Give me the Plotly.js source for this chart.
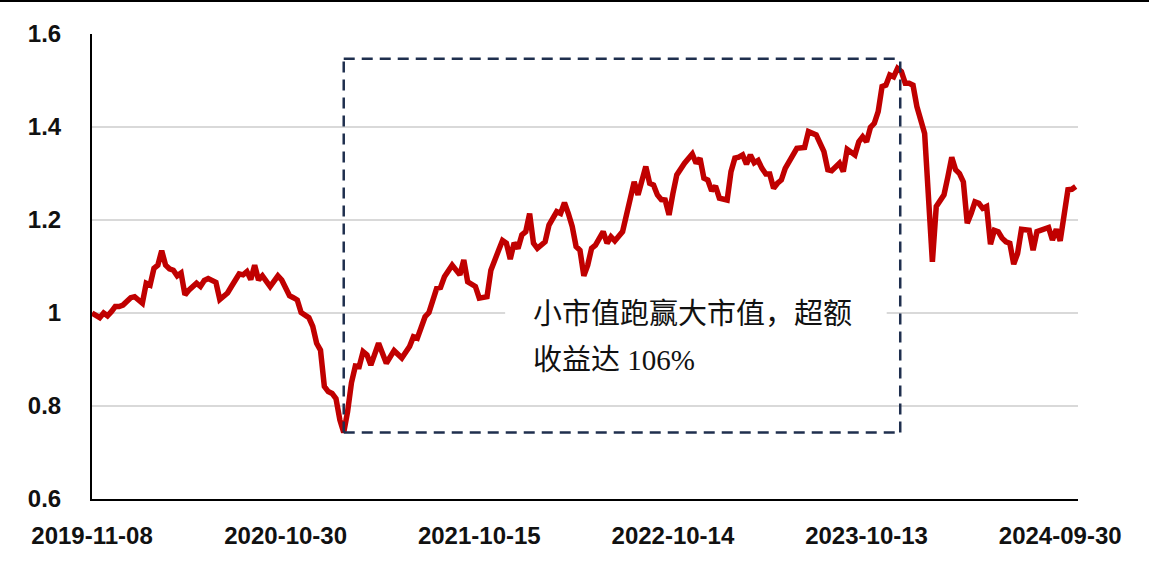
<!DOCTYPE html>
<html>
<head>
<meta charset="utf-8">
<script src="https://cdn.plot.ly/plotly-3.0.1.min.js"></script>
<style>
  html, body { margin: 0; padding: 0; background: #fff; }
  #wrap { position: relative; width: 1149px; height: 564px; }
  #chart { width: 1149px; height: 564px; }
  #topline { position: absolute; left: 0; top: 0; width: 1149px; height: 2px; background: #000; z-index: 5; }
</style>
</head>
<body>
<div id="wrap"><div id="chart"></div><div id="topline"></div></div>
<script>
// Weekly index (0 = 2019-11-08) and relative strength: small cap / large cap
const weekIndex = [0,2,3,4,5,6,7,8,10,11,13,14,15,16,17,18,19,20,21,22,23,24,25,27,28,29,30,32,33,35,36,38,39,40,41,42,43,44,46,48,49,51,52,53,54,56,57,58,59,60,61,62,63,64,65,66,67,68,69,70,71,72,74,76,78,80,82,83,84,86,87,89,90,91,93,94,95,96,97,99,100,102,103,105,106,107,108,109,110,111,112,113,114,115,117,118,119,120,121,122,123,124,125,126,127,128,129,130,132,133,134,135,137,138,140,141,142,143,144,145,146,147,148,149,150,151,153,154,155,156,157,158,159,160,161,162,164,165,166,167,168,169,170,171,172,173,174,175,176,177,178,179,181,182,184,185,187,188,189,190,191,193,194,195,197,198,199,200,201,202,203,204,205,206,207,208,209,210,211,212,213,215,216,217,218,219,220,221,222,223,224,225,226,227,228,229,230,231,232,233,234,235,236,237,238,239,240,242,243,244,246,247,248,249,250,252,253,254];
const ratio = [1.000,0.990,1.000,0.994,1.003,1.014,1.014,1.017,1.033,1.035,1.021,1.064,1.060,1.096,1.103,1.134,1.103,1.095,1.092,1.080,1.086,1.039,1.049,1.064,1.057,1.070,1.074,1.066,1.029,1.043,1.057,1.084,1.082,1.089,1.072,1.103,1.071,1.080,1.057,1.080,1.071,1.037,1.033,1.028,1.001,0.990,0.971,0.935,0.920,0.842,0.831,0.827,0.816,0.770,0.743,0.788,0.850,0.886,0.885,0.917,0.910,0.888,0.935,0.892,0.919,0.903,0.928,0.949,0.946,0.992,1.001,1.053,1.055,1.078,1.103,1.092,1.082,1.114,1.067,1.057,1.032,1.035,1.092,1.135,1.156,1.150,1.116,1.151,1.139,1.168,1.175,1.214,1.150,1.139,1.153,1.189,1.204,1.218,1.214,1.237,1.214,1.186,1.143,1.135,1.080,1.103,1.139,1.146,1.175,1.150,1.164,1.155,1.175,1.215,1.282,1.254,1.286,1.315,1.279,1.275,1.254,1.244,1.243,1.211,1.257,1.297,1.322,1.333,1.342,1.322,1.333,1.290,1.286,1.263,1.273,1.247,1.243,1.304,1.333,1.335,1.340,1.320,1.340,1.323,1.328,1.311,1.299,1.299,1.268,1.279,1.286,1.311,1.343,1.354,1.356,1.390,1.383,1.361,1.347,1.308,1.306,1.322,1.304,1.352,1.340,1.368,1.379,1.368,1.399,1.408,1.433,1.487,1.490,1.512,1.508,1.526,1.519,1.494,1.494,1.490,1.444,1.386,1.265,1.110,1.229,1.243,1.254,1.293,1.335,1.308,1.300,1.282,1.193,1.214,1.239,1.236,1.225,1.229,1.148,1.178,1.175,1.161,1.153,1.150,1.105,1.128,1.180,1.178,1.135,1.175,1.180,1.184,1.157,1.180,1.155,1.265,1.266,1.272];

const xTickPos = [0, 50, 100, 150, 200, 250];
const xTickLabels = ['2019-11-08', '2020-10-30', '2021-10-15', '2022-10-14', '2023-10-13', '2024-09-30'];
const yTickVals = [0.6, 0.8, 1.0, 1.2, 1.4, 1.6];
const yTickLabels = ['0.6', '0.8', '1', '1.2', '1.4', '1.6'];
const noteLine1 = '小市值跑赢大市值，超额';
const noteLine2 = '收益达 106%';

// box around the rally: from the trough to the peak
let minI = 0, maxI = 0;
ratio.forEach((v, i) => { if (v < ratio[minI]) minI = i; if (v > ratio[maxI]) maxI = i; });
const boxTopPad = 0.021;
const boxRightPad = 0.7;

const tickFont = { family: 'Liberation Sans, Arial, sans-serif', size: 24, color: '#111', weight: 'bold' };
const noteFont = { family: 'Liberation Serif, Noto Sans CJK SC, serif', size: 29, color: '#111' };

const trace = {
  x: weekIndex, y: ratio, type: 'scatter', mode: 'lines',
  line: { color: '#C00000', width: 5.5 }, hoverinfo: 'skip'
};

const boxLine = { color: '#1F2F4E', width: 2.5, dash: '11px,7px' };
const bx0 = weekIndex[minI], bx1 = weekIndex[maxI] + boxRightPad;
const by0 = ratio[minI], by1 = ratio[maxI] + boxTopPad;

const layout = {
  width: 1149, height: 564,
  margin: { l: 92, r: 71, t: 34, b: 65 },
  paper_bgcolor: '#fff', plot_bgcolor: '#fff',
  showlegend: false,
  xaxis: {
    range: [0, 254.6], showgrid: false, zeroline: false,
    showline: true, linecolor: '#000', linewidth: 2,
    tickmode: 'array', tickvals: xTickPos, ticktext: xTickLabels,
    ticks: '', ticklabelstandoff: 14, tickfont: tickFont, fixedrange: true
  },
  yaxis: {
    range: [0.6, 1.6], showgrid: true, gridcolor: '#D9D9D9', gridwidth: 2,
    zeroline: false, showline: true, linecolor: '#000', linewidth: 2,
    tickmode: 'array', tickvals: yTickVals, ticktext: yTickLabels,
    ticks: '', ticklabelstandoff: 24, tickfont: tickFont, fixedrange: true
  },
  shapes: [
    { type: 'rect', xref: 'paper', yref: 'paper', x0: 0.419, x1: 0.806, y0: 0.383, y1: 0.417,
      fillcolor: '#fff', line: { width: 0 }, layer: 'above' },
    { type: 'line', xref: 'x', yref: 'y', x0: bx0, x1: bx1, y0: by1, y1: by1, line: boxLine },
    { type: 'line', xref: 'x', yref: 'y', x0: bx0, x1: bx1, y0: by0, y1: by0, line: boxLine },
    { type: 'line', xref: 'x', yref: 'y', x0: bx0, x1: bx0, y0: by0, y1: by1, line: boxLine },
    { type: 'line', xref: 'x', yref: 'y', x0: bx1, x1: bx1, y0: by0, y1: by1, line: boxLine }
  ],
  annotations: [
    { xref: 'paper', yref: 'paper', x: 0.445, y: 0.397, xanchor: 'left', yanchor: 'middle',
      text: noteLine1, showarrow: false, font: noteFont },
    { xref: 'paper', yref: 'paper', x: 0.445, y: 0.299, xanchor: 'left', yanchor: 'middle',
      text: noteLine2, showarrow: false, font: noteFont }
  ]
};

Plotly.newPlot('chart', [trace], layout, { displayModeBar: false, staticPlot: true });
</script>
</body>
</html>
